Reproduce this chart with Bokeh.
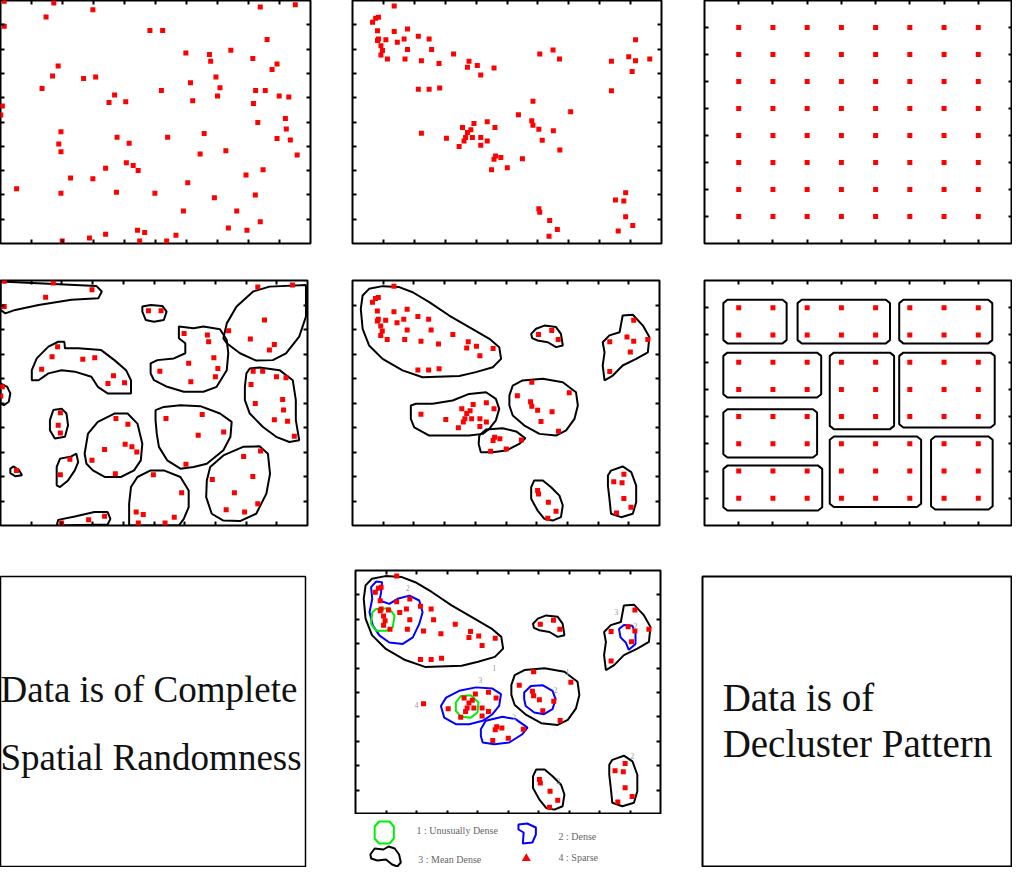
from bokeh.plotting import figure
from bokeh.layouts import row, column
from bokeh.models import Range1d, FixedTicker, LinearAxis, CustomJSTickFormatter, Grid
from bokeh.core.properties import value
from bokeh.embed import file_html
from bokeh.resources import INLINE

# ---------------- data ----------------
# Complete spatial randomness points (panel range 0..10)
csr_x = [0.12,1.72,1.47,2.98,0.12,4.82,5.23,8.38,9.51,8.6,
         5.98,6.74,6.78,7.43,8.14,8.92,8.76,1.86,1.68,2.68,
         3.07,1.34,6.95,7.08,6.13,5.19,8.23,8.54,7.0,8.99,
         9.3,3.68,3.5,4.04,6.2,8.16,0.06,0.01,9.19,8.3,
         9.22,1.95,3.76,5.39,6.57,8.92,9.35,1.88,1.95,4.15,
         6.44,7.27,9.57,3.39,4.06,4.28,4.44,7.92,8.47,2.26,
         2.98,0.52,6.04,1.95,3.74,4.98,6.9,8.22,5.9,7.62,
         8.38,7.35,7.95,3.39,4.42,4.65,2.87,1.99,4.49,5.36,5.66]
csr_y = [9.97,9.9,9.32,9.62,8.94,8.77,8.77,9.73,9.82,8.39,
         7.84,7.78,7.5,7.95,7.61,7.39,7.16,7.3,6.89,6.79,
         6.85,6.38,6.85,6.41,6.62,6.3,6.3,6.3,6.07,6.07,
         6.03,6.11,5.8,5.83,5.87,5.76,5.66,5.29,5.14,4.98,
         4.71,4.6,4.37,4.37,4.53,4.32,4.26,4.09,3.78,4.13,
         3.68,3.82,3.64,3.1,3.32,3.21,3.0,2.82,3.04,2.7,
         2.66,2.25,2.5,2.07,2.11,2.07,1.88,2.0,1.34,1.34,
         0.89,0.64,0.55,0.38,0.55,0.45,0.23,0.1,0.1,0.1,0.34]

# Clustered points (panel range 0..10)
clu_x = [1.35,0.65,0.75,0.84,0.81,1.35,1.78,0.81,1.08,0.92,
         0.97,0.92,1.13,1.45,1.67,1.78,1.7,2.13,2.48,2.56,
         2.23,2.8,3.27,3.77,3.72,4.04,4.15,4.58,2.13,2.48,
         2.82,6.06,6.49,6.7,8.38,8.94,9.16,9.16,9.62,9.05,
         8.38,5.84,5.37,7.06,5.8,5.84,6.03,6.14,6.5,6.71,
         2.23,3.04,3.56,3.72,3.66,3.83,3.93,3.88,3.61,3.45,
         4.36,4.61,4.15,4.36,4.15,4.63,4.8,4.58,4.5,5.01,
         5.5,8.51,8.78,8.84,8.84,9.07,8.6,6.03,6.06,6.38,
         6.63,6.36,0.84]
clu_y = [9.77,9.11,9.27,9.31,8.76,8.72,8.83,8.35,8.38,8.14,
         7.94,7.76,7.59,8.28,8.42,7.98,7.59,8.53,8.42,7.98,
         7.52,7.41,7.8,7.5,7.25,7.32,6.93,7.22,6.35,6.35,
         6.4,7.8,7.96,7.59,7.5,7.69,8.38,7.52,7.59,7.08,
         6.29,5.85,5.3,5.42,5.05,4.87,4.7,4.25,4.64,3.85,
         4.54,4.33,4.77,4.57,4.36,4.68,4.94,4.36,4.22,3.99,
         5.01,4.77,4.36,4.22,4.04,3.6,3.54,3.47,3.03,3.12,
         3.49,1.79,1.75,2.09,1.1,0.74,0.51,1.43,1.29,0.95,
         0.58,0.3,8.42]

# Declustered (regular) pattern (panel range 0..9)
grid_cols = [1, 2, 3, 4, 5, 6, 7, 8]
grid_rows = [1, 2, 3, 4, 5, 6, 7, 8]

# Contours of the CSR panel
csr_cont_xs = [
    [0,3.12,3.3,3.19,2.31,1.24,0.48,0.16,0],
    [4.62,4.89,5.27,5.41,5.32,5.0,4.73,4.62],
    [1.02,1.18,1.56,1.88,2.08,2.1,2.53,3.28,3.71,4.09,4.25,4.25,3.49,3.17,2.96,2.42,1.99,1.56,1.24,1.02],
    [7.26,7.37,7.69,8.23,8.76,9.95,9.95,9.73,9.3,8.87,8.33,7.8,7.37],
    [4.89,5.11,5.65,6.02,6.02,5.81,5.81,6.29,6.61,7.15,7.37,7.42,7.37,7.04,6.61,5.97,5.43,5.0,4.89],
    [8.01,8.12,8.44,9.09,9.52,9.62,9.62,9.73,9.41,8.98,8.55,8.12,7.96,7.96],
    [0,0.22,0.32,0.27,0.11,0],
    [1.61,1.72,1.99,2.15,2.2,2.1,1.77,1.61],
    [0.32,0.43,0.61,0.7,0.48,0.32],
    [1.83,1.94,2.31,2.47,2.53,2.42,2.2,1.94,1.83],
    [2.74,2.85,3.17,3.71,4.14,4.46,4.62,4.57,4.35,3.92,3.39,3.01,2.8],
    [5.05,5.05,5.32,5.86,6.51,7.15,7.53,7.49,7.26,6.72,6.29,5.86,5.43,5.16,5.09],
    [6.72,6.83,7.26,7.9,8.44,8.71,8.78,8.66,8.33,7.8,7.26,6.88,6.7],
    [4.19,4.25,4.46,4.89,5.32,5.86,6.13,6.13,5.97,5.81,4.19],
    [1.83,1.88,2.42,3.06,3.49,3.58,3.49],
]
csr_cont_ys = [
    [9.96,9.78,9.55,9.28,9.21,9.0,8.8,8.66,8.8],
    [8.94,9.0,8.96,8.73,8.39,8.32,8.39,8.73],
    [6.34,6.82,7.3,7.5,7.5,7.23,7.23,7.16,6.75,6.34,5.93,5.39,5.39,5.66,6.07,6.28,6.34,6.21,5.93,5.93],
    [7.64,8.25,8.94,9.55,9.75,9.82,8.53,7.71,7.03,6.75,6.73,7.03,7.44],
    [6.62,6.75,6.82,7.03,7.44,7.64,8.12,8.05,8.12,8.01,7.57,7.03,6.34,5.66,5.46,5.46,5.66,5.93,6.21],
    [6.21,6.41,6.45,6.34,5.93,5.12,4.3,3.48,3.41,3.62,4.02,4.57,5.12,5.66],
    [5.8,5.66,5.39,5.05,4.91,4.98],
    [4.3,4.71,4.77,4.57,4.09,3.62,3.55,3.89],
    [2.32,2.41,2.25,2.05,2.01,2.14],
    [2.39,2.73,2.82,2.93,2.59,2.25,1.84,1.57,1.64],
    [2.93,3.75,4.23,4.57,4.57,4.16,3.34,2.66,2.25,1.98,1.98,2.25,2.52],
    [4.3,4.71,4.84,4.91,4.87,4.57,4.23,3.62,3.07,2.52,2.39,2.32,2.66,3.21,3.75],
    [1.84,2.39,2.86,3.21,3.23,2.93,2.11,1.3,0.48,0.18,0.2,0.48,1.16],
    [0.89,1.57,1.98,2.25,2.25,1.98,1.43,0.75,0.27,0.0,0.0],
    [0.0,0.23,0.37,0.55,0.55,0.27,0.04],
]

# Contours of the clustered panel (mean-dense level)
clu_cont_xs = {
    "A": [0.33,0.54,0.98,1.52,1.96,2.5,3.15,3.8,4.46,4.78,4.84,4.57,4.02,3.48,2.28,1.63,0.98,0.54,0.33,0.27],
    "B": [5.82,5.98,6.25,6.63,6.79,6.85,6.63,6.36,6.03,5.85],
    "C": [8.15,8.37,8.7,8.8,9.13,9.46,9.67,9.62,9.24,8.8,8.48,8.21,8.15,8.21],
    "D": [1.9,2.07,2.61,3.26,3.8,4.35,4.67,4.78,4.67,4.46,4.24,3.8,3.26,2.5,2.01,1.9],
    "E": [5.11,5.22,5.54,6.2,6.85,7.28,7.34,7.23,6.96,6.63,6.09,5.6,5.22,5.11],
    "F": [4.13,4.35,4.89,5.33,5.63,5.43,5.0,4.57,4.18,4.11],
    "G": [5.82,5.92,6.2,6.47,6.74,6.85,6.79,6.52,6.25,6.03,5.82],
    "H": [8.32,8.42,8.8,9.08,9.24,9.24,9.13,8.75,8.42,8.37,8.32],
}
clu_cont_ys = {
    "A": [9.39,9.66,9.77,9.73,9.52,9.12,8.57,8.1,7.62,7.28,6.8,6.46,6.26,6.1,6.05,6.33,6.8,7.35,8.03,8.84],
    "B": [7.82,8.03,8.16,8.1,7.82,7.35,7.28,7.48,7.55,7.65],
    "C": [7.48,7.76,7.89,8.57,8.6,8.16,7.69,7.07,6.8,6.53,6.12,5.92,6.53,7.07],
    "D": [4.9,4.97,4.97,5.1,5.37,5.44,5.17,4.76,4.29,3.95,3.74,3.67,3.67,3.67,4.01,4.35],
    "E": [5.31,5.71,5.92,5.99,5.85,5.44,4.9,4.35,3.88,3.67,3.74,4.08,4.49,4.9],
    "F": [3.67,3.92,3.97,3.84,3.56,3.33,3.06,2.99,2.99,3.33],
    "G": [1.56,1.84,1.84,1.56,1.22,0.82,0.34,0.2,0.27,0.61,1.09],
    "H": [2.04,2.24,2.41,2.18,1.63,0.95,0.48,0.34,0.48,1.09,1.63],
}

# Multi-level density contours for the classified panel
dense_xs = [
    [0.51,0.68,0.87,0.84,0.79,1.11,1.38,1.77,2.09,2.2,2.09,1.88,1.55,1.11,0.79,0.57,0.46,0.55],
    [8.64,8.8,9.07,9.18,9.18,8.96,8.86,8.69],
    [5.53,5.75,6.13,6.46,6.56,6.46,6.18,5.86,5.58,5.53],
    [2.8,2.97,3.4,3.95,4.49,4.77,4.71,4.49,4.17,3.73,3.29,2.91],
    [4.11,4.27,4.82,5.26,5.64,5.47,5.04,4.55,4.17,4.11],
]
dense_ys = [
    [9.32,9.55,9.52,9.11,8.77,8.63,8.84,8.97,8.77,8.29,7.81,7.26,6.99,7.05,7.33,7.74,8.29,8.84],
    [7.6,7.77,7.74,7.47,6.99,6.75,7.05,7.26],
    [5.0,5.27,5.3,5.07,4.73,4.32,4.11,4.18,4.45,4.73],
    [4.45,4.79,5.07,5.21,5.16,4.93,4.45,4.11,3.84,3.7,3.7,3.97],
    [3.49,3.84,4.01,3.9,3.56,3.29,2.95,2.88,2.95,3.22],
]
udense_xs = [
    [0.55,0.68,1.11,1.28,1.22,1.0,0.68,0.51],
    [3.29,3.46,3.78,4.03,4.0,3.78,3.46,3.29],
]
udense_ys = [
    [8.29,8.42,8.45,8.15,7.67,7.53,7.53,7.81],
    [4.59,4.86,4.89,4.59,4.18,3.97,4.01,4.25],
]
mean_keys = ["A", "B", "C", "E", "G", "H"]

# cluster index labels
lab_x = [1.71, 4.55, 4.09, 2.0, 5.2, 6.56, 6.95, 8.55, 9.18, 6.65, 9.07]
lab_y = [9.27, 5.99, 5.52, 4.48, 4.01, 5.11, 5.82, 8.29, 7.74, 1.37, 2.4]
lab_t = ["2", "1", "3", "4", "2", "2", "1", "3", "2", "2", "2"]

# Declustered group boxes (panel range 0..9)
box_x0 = [0.55, 2.72, 5.69, 0.55, 3.66, 5.69, 0.55, 3.66, 6.62, 0.55]
box_x1 = [2.40, 5.42, 8.41, 3.41, 5.54, 8.48, 3.29, 6.33, 8.42, 3.44]
box_y0 = [6.69, 6.69, 6.69, 4.70, 3.54, 3.60, 2.50, 0.68, 0.59, 0.55]
box_y1 = [8.29, 8.29, 8.29, 6.35, 6.35, 6.35, 4.27, 3.27, 3.27, 2.20]

legend_labels = ["1 : Unusually Dense", "2 : Dense", "3 : Mean Dense", "4 : Sparse"]

text_csr = ["Data is of Complete", "Spatial Randomness"]
text_dec = ["Data is of", "Decluster Pattern"]

RED = "#ff0000"
SERIF = value("Liberation Serif")


# ---------------- helpers ----------------
def strip_grid(p):
    p.center = [c for c in p.center if not isinstance(c, Grid)]


def base_fig(w, h, xr, yr, left, right, top, bottom, outline_w=2):
    p = figure(width=w, height=h, x_range=Range1d(*xr), y_range=Range1d(*yr),
               output_backend="svg", toolbar_location=None, title=None,
               x_axis_location=None, y_axis_location=None, tools="",
               min_border_left=left, min_border_right=right,
               min_border_top=top, min_border_bottom=bottom)
    strip_grid(p)
    p.outline_line_color = "black"
    p.outline_line_width = outline_w
    p.background_fill_color = "white"
    p.border_fill_color = "white"
    return p


def add_ticks(p, ticks):
    for loc in ("below", "above", "left", "right"):
        ax = LinearAxis(ticker=FixedTicker(ticks=ticks, minor_ticks=[]),
                        formatter=CustomJSTickFormatter(code="return ''"))
        ax.major_tick_in = 4
        ax.major_tick_out = 0
        ax.minor_tick_in = 0
        ax.minor_tick_out = 0
        ax.major_tick_line_color = "black"
        ax.major_tick_line_width = 2
        ax.axis_line_color = None
        ax.major_label_text_font_size = "0px"
        ax.major_label_standoff = 0
        p.add_layout(ax, loc)


def add_points(p, xs, ys):
    p.scatter(xs, ys, marker="square", size=5, fill_color=RED, line_color=None)


TICKS10 = [1, 2, 3, 4, 5, 6, 7, 8, 9]
TICKS9 = [1, 2, 3, 4, 5, 6, 7, 8]

gx = [c for r in grid_rows for c in grid_cols]
gy = [r for r in grid_rows for c in grid_cols]

# ---------------- row 1 ----------------
tl = base_fig(332, 262, (0, 10), (0, 10), 0, 22, 0, 18)
add_ticks(tl, TICKS10)
add_points(tl, csr_x, csr_y)

tm = base_fig(350, 262, (0, 10), (0, 10), 20, 21, 0, 19)
add_ticks(tm, TICKS10)
add_points(tm, clu_x, clu_y)

tr = base_fig(330, 262, (0, 9), (0, 9), 22, 0, 0, 18)
add_ticks(tr, TICKS9)
add_points(tr, gx, gy)

# ---------------- row 2 ----------------
ml = base_fig(332, 290, (0, 10), (0, 10), 0, 25, 17, 27)
add_ticks(ml, TICKS10)
ml.patches(csr_cont_xs, csr_cont_ys, fill_color=None, line_color="black", line_width=2)
add_points(ml, csr_x, csr_y)

mm = base_fig(350, 290, (0, 10), (0, 10), 20, 23, 18, 27)
add_ticks(mm, TICKS10)
mm.patches([clu_cont_xs[k] for k in clu_cont_xs], [clu_cont_ys[k] for k in clu_cont_ys],
           fill_color=None, line_color="black", line_width=2)
add_points(mm, clu_x, clu_y)

mr = base_fig(330, 290, (0, 9), (0, 9), 22, 0, 17, 27)
add_ticks(mr, TICKS9)
bev = 0.12
bxs, bys = [], []
for x0, x1, y0, y1 in zip(box_x0, box_x1, box_y0, box_y1):
    bxs.append([x0 + bev, x1 - bev, x1, x1, x1 - bev, x0 + bev, x0, x0])
    bys.append([y0, y0, y0 + bev, y1 - bev, y1, y1, y1 - bev, y0 + bev])
mr.patches(bxs, bys, fill_color=None, line_color="black", line_width=2)
add_points(mr, gx, gy)

# ---------------- row 3 ----------------
bl = base_fig(332, 315, (0, 10), (0, 10), 0, 27, 24, 1, outline_w=1.5)
bl.text(x=[0.0, 0.0], y=[6.1, 3.76], text=text_csr, text_font=SERIF,
        text_font_size="37px", text_baseline="alphabetic", text_align="left",
        text_color="#111111")

bm = base_fig(350, 262, (0, 10), (0, 10), 23, 22, 18, 0)
add_ticks(bm, TICKS10)
bm.patches([clu_cont_xs[k] for k in mean_keys], [clu_cont_ys[k] for k in mean_keys],
           fill_color=None, line_color="black", line_width=2)
bm.patches(dense_xs, dense_ys, fill_color=None, line_color="#0000ff", line_width=2)
bm.patches(udense_xs, udense_ys, fill_color=None, line_color="#00ee00", line_width=2)
add_points(bm, clu_x, clu_y)
bm.text(x=lab_x, y=lab_y, text=lab_t, text_font=SERIF, text_font_size="8px",
        text_color="#999999", text_align="center", text_baseline="middle")

# legend strip
lg = figure(width=350, height=53, x_range=Range1d(0, 350), y_range=Range1d(0, 53),
            output_backend="svg", toolbar_location=None, title=None, tools="",
            x_axis_location=None, y_axis_location=None,
            min_border_left=0, min_border_right=0, min_border_top=0, min_border_bottom=0)
strip_grid(lg)
lg.outline_line_color = None
lg.background_fill_color = "white"
lg.border_fill_color = "white"
g_off = ([-6, 6, 11, 11, 6, -6, -11, -11], [11, 11, 6, -6, -11, -11, -6, 6])
b_off = ([-10, 0, 10, 10, 6, -5, -4, -10], [8, 9, 5, -2, -10, -11, 0, 3])
k_off = ([-18, -13, -3, 3, 10, 15, 17, 13, 7, 0, -10, -17], [2, 8, 7, 10, 8, 2, -6, -10, -8, -3, -4, -2])
icon_pos = [(33, 35), (197, 35), (35, 11)]
icon_shapes = [g_off, b_off, k_off]
icon_cols = ["#00ee00", "#0000ff", "black"]
for (cx, cy), (ox, oy), col in zip(icon_pos, icon_shapes, icon_cols):
    lg.patch([cx + a for a in ox], [cy + b for b in oy], fill_color=None,
             line_color=col, line_width=2)
lg.scatter([196], [9], marker="triangle", size=9, fill_color=RED, line_color=None)
lg.text(x=[70, 233, 72, 233], y=[37, 31, 8, 10], text=legend_labels, text_font=SERIF,
        text_font_size="10px", text_color="#666666", text_baseline="middle", text_align="left")

br = base_fig(330, 315, (0, 10), (0, 10), 20, 0, 17, 1, outline_w=2)
br.text(x=[0.65, 0.65], y=[5.82, 4.24], text=text_dec, text_font=SERIF,
        text_font_size="39px", text_baseline="alphabetic", text_align="left",
        text_color="#111111")

layout = column(row(tl, tm, tr), row(ml, mm, mr), row(bl, column(bm, lg), br))

open("out.html", "w").write(file_html(layout, INLINE))
